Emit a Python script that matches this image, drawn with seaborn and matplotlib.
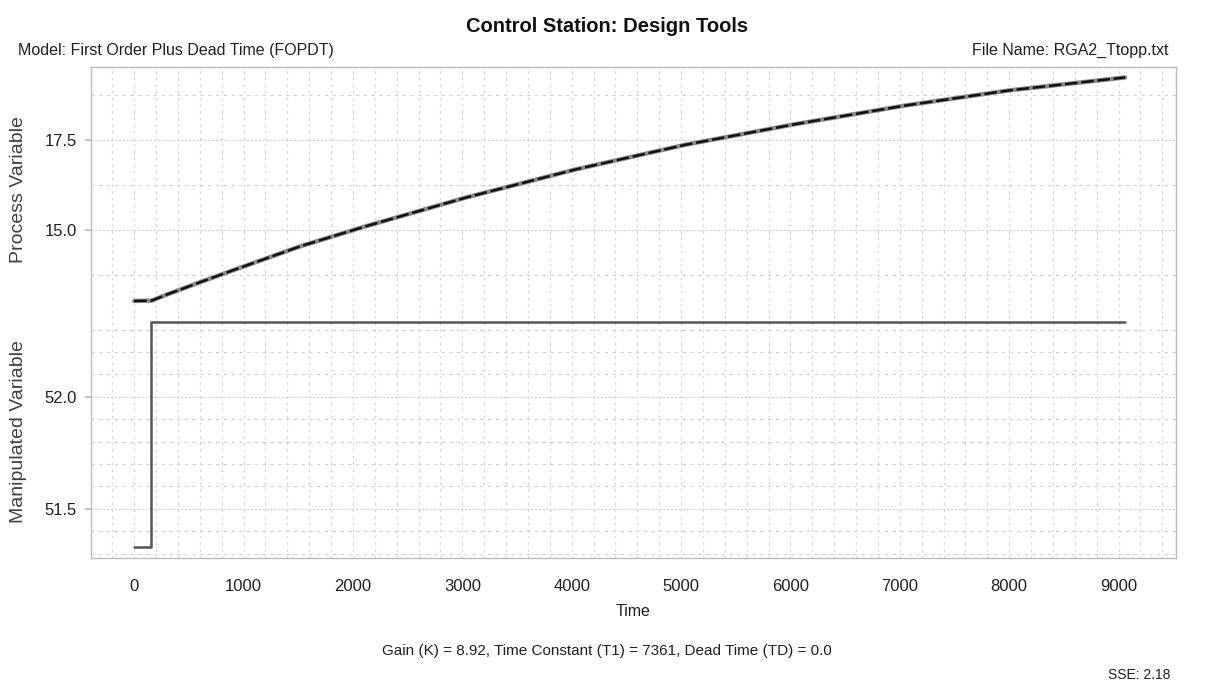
import matplotlib
matplotlib.use("Agg")
import matplotlib.pyplot as plt
from matplotlib.ticker import MultipleLocator, FixedLocator
import seaborn as sns
import pandas as pd

# ---- data ----
time_pv = [0, 160, 300, 610, 910, 1520, 2100, 3030, 4030, 5040, 6040, 7050, 8000, 9060]
process_variable = [13.03, 13.04, 13.21, 13.56, 13.89, 14.55, 15.09, 15.90, 16.68, 17.37, 17.94, 18.46, 18.88, 19.24]

time_mv = [0, 150, 9060]
manipulated_variable = [51.33, 52.335, 52.335]

x_ticks = [0, 1000, 2000, 3000, 4000, 5000, 6000, 7000, 8000, 9000]
pv_ticks = [15.0, 17.5]
mv_ticks = [51.5, 52.0]

title = "Control Station: Design Tools"
model_text = "Model: First Order Plus Dead Time (FOPDT)"
file_text = "File Name: RGA2_Ttopp.txt"
gain_text = "Gain (K) = 8.92, Time Constant (T1) = 7361, Dead Time (TD) = 0.0"
sse_text = "SSE: 2.18"

sns.set_theme(style="white")
plt.rcParams["font.family"] = ["Liberation Sans", "DejaVu Sans"]
TXT = "#202020"
GRID = "#d0d0d0"
FRAME = "#bcbcbc"

fig = plt.figure(figsize=(12.08, 6.88), dpi=100)
fig.patch.set_facecolor("white")

L, R = 91 / 1208, 1176 / 1208
top = 1 - 67 / 688
bot = 1 - 558 / 688
mid = 1 - 312.5 / 688
ax_pv = fig.add_axes([L, mid, R - L, top - mid])
ax_mv = fig.add_axes([L, bot, R - L, mid - bot], sharex=ax_pv)

pv_df = pd.DataFrame({"Time": time_pv, "PV": process_variable})
mv_df = pd.DataFrame({"Time": time_mv, "MV": manipulated_variable})

sns.lineplot(data=pv_df, x="Time", y="PV", ax=ax_pv, color="#8a8a8a", lw=3.2, sort=False)
sns.lineplot(data=pv_df, x="Time", y="PV", ax=ax_pv, color="#111111", lw=1.8,
             dashes=False, sort=False, linestyle=(0, (5, 1.5)))
sns.lineplot(data=mv_df, x="Time", y="MV", ax=ax_mv, color="#555555", lw=1.8,
             drawstyle="steps-post", sort=False)

ax_pv.set_xlim(-395, 9525)
ax_pv.set_ylim(12.71, 19.53)
ax_mv.set_ylim(51.28, 52.377)

for ax in (ax_pv, ax_mv):
    ax.set_facecolor("white")
    ax.xaxis.set_minor_locator(MultipleLocator(200))
    ax.grid(which="minor", axis="x", color=GRID, lw=0.8, linestyle=(0, (2, 4)))
    ax.grid(which="minor", axis="y", color=GRID, lw=0.8, linestyle=(0, (3, 4)))
    ax.grid(which="major", axis="y", color=GRID, lw=0.8, linestyle=(0, (2, 1.5)))
    ax.grid(which="major", axis="x", color=GRID, lw=0.8, linestyle=(0, (2, 4)))
    for s in ax.spines.values():
        s.set_color(FRAME)
        s.set_linewidth(1.0)
    ax.tick_params(axis="y", which="major", length=4, color=FRAME, labelsize=12,
                   labelcolor=TXT, pad=6, left=True)
    ax.tick_params(axis="y", which="minor", length=0)
    ax.tick_params(axis="x", which="minor", length=0)

ax_pv.spines["bottom"].set_visible(False)
ax_mv.spines["top"].set_visible(False)

ax_pv.yaxis.set_major_locator(FixedLocator(pv_ticks))
ax_pv.yaxis.set_minor_locator(MultipleLocator(1.25))
ax_pv.set_yticklabels([f"{v:.1f}" for v in pv_ticks])
ax_mv.yaxis.set_major_locator(FixedLocator(mv_ticks))
ax_mv.yaxis.set_minor_locator(MultipleLocator(0.1))
ax_mv.set_yticklabels([f"{v:.1f}" for v in mv_ticks])

ax_mv.xaxis.set_major_locator(FixedLocator(x_ticks))
ax_mv.set_xticklabels([str(v) for v in x_ticks])
ax_pv.tick_params(axis="x", which="both", bottom=False, labelbottom=False)
ax_mv.tick_params(axis="x", which="major", length=4, color=FRAME, labelsize=12,
                  labelcolor=TXT, pad=11)

ax_pv.set_xlabel("")
ax_pv.set_ylabel("")
ax_mv.set_ylabel("")
ax_mv.set_xlabel("Time", fontsize=11.5, color=TXT, labelpad=7)

fig.text(19 / 1208, 1 - 190 / 688, "Process Variable", rotation=90, ha="center",
         va="center", fontsize=14, color="#404040")
fig.text(19 / 1208, 1 - 432 / 688, "Manipulated Variable", rotation=90, ha="center",
         va="center", fontsize=14, color="#404040")

fig.text(607 / 1208, 1 - 27 / 688, title, ha="center", va="center", fontsize=14.5,
         fontweight="bold", color="#101010")
fig.text(18 / 1208, 1 - 50 / 688, model_text, ha="left", va="center", fontsize=11.5,
         color=TXT)
fig.text(1168 / 1208, 1 - 50 / 688, file_text, ha="right", va="center", fontsize=11.5,
         color=TXT)
fig.text(607 / 1208, 1 - 651 / 688, gain_text, ha="center", va="center", fontsize=11,
         color=TXT)
fig.text(1170 / 1208, 1 - 675 / 688, sse_text, ha="right", va="center", fontsize=10,
         color=TXT)

fig.savefig("out.png", dpi=100, facecolor="white")
